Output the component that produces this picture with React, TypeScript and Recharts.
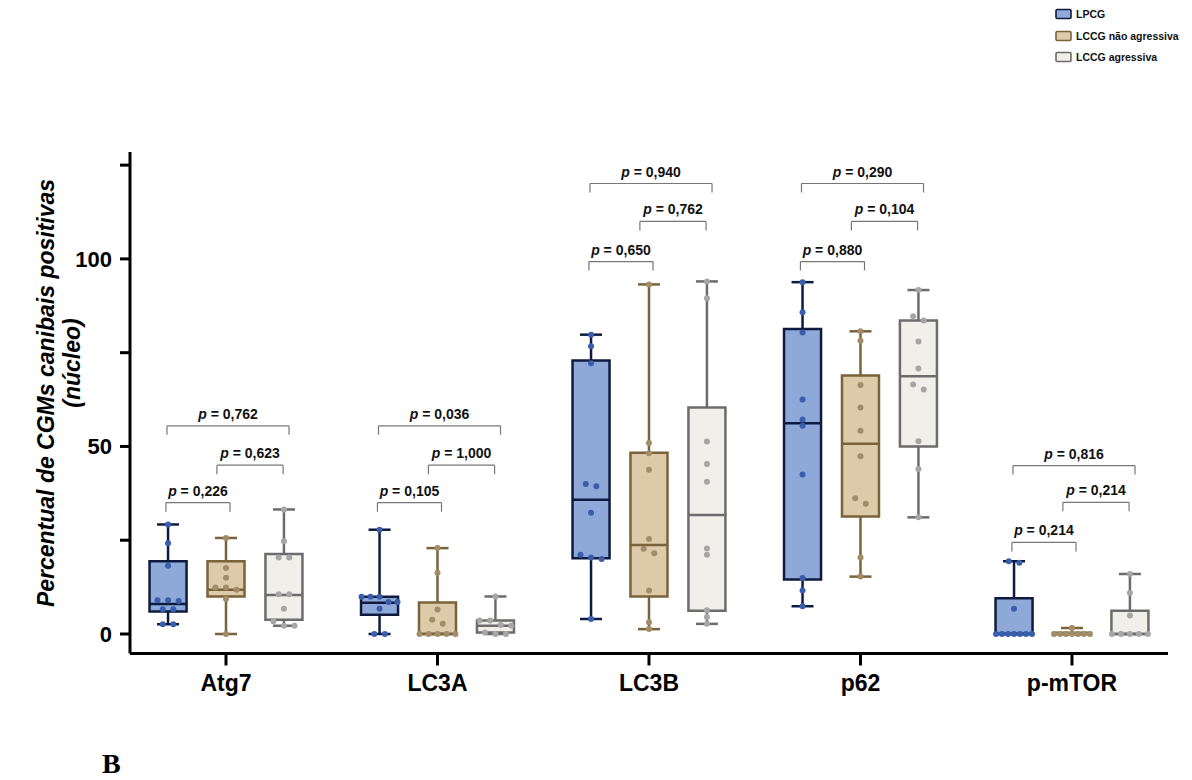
import React from 'react';
import { ComposedChart, XAxis, YAxis, Scatter, ReferenceArea, ReferenceLine } from 'recharts';

const categories = ['Atg7', 'LC3A', 'LC3B', 'p62', 'p-mTOR'];
const groupNames = ['LPCG', 'LCCG não agressiva', 'LCCG agressiva'];

// box statistics per category: [min, q1, median, q3, max]
const lpcgStats = [
  [2.6, 6.0, 8.0, 19.4, 29.2],
  [0, 5.1, 8.3, 9.9, 27.8],
  [4.0, 20.2, 35.8, 72.9, 79.8],
  [7.4, 14.5, 56.2, 81.3, 93.8],
  [0, 0, 0, 9.5, 19.4],
];
const naoStats = [
  [0, 10.0, 11.8, 19.4, 25.6],
  [0, 0, 0, 8.4, 22.9],
  [1.3, 10.0, 23.7, 48.3, 93.2],
  [15.3, 31.3, 50.7, 68.9, 80.7],
  [0, 0, 0, 0.3, 1.6],
];
const agrStats = [
  [2.2, 3.8, 10.4, 21.3, 33.2],
  [0, 0.4, 2.2, 3.6, 10.0],
  [2.7, 6.2, 31.7, 60.4, 94.0],
  [31.1, 50.0, 68.7, 83.6, 91.7],
  [0, 0, 0, 6.2, 16.0],
];

// individual values per category
const lpcgPoints = [
  [29.2, 24.2, 18.2, 9.0, 9.0, 8.8, 6.6, 6.6, 2.6, 2.6],
  [27.8, 9.9, 9.9, 9.9, 8.5, 8.5, 6.7, 0, 0],
  [79.8, 76.7, 72.2, 40.0, 39.4, 32.3, 21.1, 20.4, 20.0, 4.0],
  [93.8, 85.8, 80.4, 62.5, 57.2, 55.5, 42.5, 14.9, 11.6, 7.4],
  [19.4, 19.0, 6.7, 0, 0, 0, 0, 0, 0, 0],
];
const naoPoints = [
  [25.6, 17.6, 15.0, 12.4, 12.4, 11.8, 9.3, 0],
  [22.9, 16.3, 6.5, 3.8, 2.7, 0, 0, 0, 0, 0],
  [93.2, 50.9, 48.2, 43.8, 25.3, 22.7, 21.5, 11.6, 3.1, 1.3],
  [80.7, 78.2, 66.4, 60.4, 54.2, 47.4, 36.2, 34.7, 20.4, 15.3],
  [1.6, 0, 0, 0, 0, 0, 0, 0],
];
const agrPoints = [
  [33.2, 24.7, 20.4, 20.4, 10.6, 10.6, 6.7, 3.4, 2.2, 2.2],
  [10.0, 3.6, 3.6, 2.4, 2.2, 0.4, 0, 0],
  [94.0, 89.5, 51.3, 45.3, 40.6, 22.8, 21.1, 6.3, 4.5, 2.7],
  [91.7, 84.7, 83.6, 78.0, 70.8, 66.5, 65.2, 51.4, 44.0, 31.1],
  [16.0, 10.9, 4.9, 0, 0, 0, 0, 0],
];

// p-values and bracket heights (y units)
const pLpcgNao = ['0,226', '0,105', '0,650', '0,880', '0,214'];
const pNaoAgr = ['0,623', '1,000', '0,762', '0,104', '0,214'];
const pLpcgAgr = ['0,762', '0,036', '0,940', '0,290', '0,816'];
const bracketLow = [35, 35, 99.3, 99.3, 24.4];
const bracketMid = [45, 45, 110, 110, 35.1];
const bracketHigh = [55.5, 55.5, 120.1, 120.1, 44.9];

const yTicks = [0, 25, 50, 75, 100, 125];
const xTicks = [0, 1, 2, 3, 4];

const FONT = '"Liberation Sans", Arial, Helvetica, sans-serif';

const groupStyles = [
  { fill: '#8EA9D7', stroke: '#0E1B3E', dot: '#3A5EAE' },
  { fill: '#DDCAA9', stroke: '#7A623A', dot: '#A38D68' },
  { fill: '#F0EFEA', stroke: '#6C6C6C', dot: '#A6A6A6' },
];
const groupStats = [lpcgStats, naoStats, agrStats];
const groupPoints = [lpcgPoints, naoPoints, agrPoints];

const OFFSETS = [-0.274, 0, 0.274];
const BOX_HALF = 0.0875;
const CAP_HALF = 0.052;
const TICK_DROP = 2.4;

function jitter(values: number[]): number[] {
  const idx = values.map((v, i) => ({ v, i })).sort((a, b) => b.v - a.v);
  const out = new Array(values.length).fill(0);
  let start = 0;
  while (start < idx.length) {
    let end = start + 1;
    while (end < idx.length && idx[end - 1].v - idx[end].v < 1.6) end++;
    const n = end - start;
    const step = n > 1 ? Math.min(0.05, 0.17 / (n - 1)) : 0;
    for (let k = start; k < end; k++) out[idx[k].i] = (k - start - (n - 1) / 2) * step;
    start = end;
  }
  return out;
}

const pointData = groupPoints.map((gp, gi) =>
  gp.flatMap((vals, ci) => {
    const j = jitter(vals);
    return vals.map((v, k) => ({ x: ci + OFFSETS[gi] + j[k], y: v }));
  })
);

const labelData = categories.flatMap((c, ci) => [
  { x: ci + (-0.284 + 0.019) / 2, y: bracketLow[ci], label: pLpcgNao[ci] },
  { x: ci + (-0.043 + 0.27) / 2, y: bracketMid[ci], label: pNaoAgr[ci] },
  { x: ci + (-0.279 + 0.298) / 2, y: bracketHigh[ci], label: pLpcgAgr[ci] },
]);

const Dot = (color: string) => (props: any) => (
  <circle cx={props.cx} cy={props.cy} r={3} fill={color} stroke="none" />
);

const PLabel = (props: any) => {
  const label = props.payload?.label ?? props.label;
  return (
    <text x={props.cx} y={props.cy - 7} textAnchor="middle" fontFamily={FONT} fontWeight={700} fontSize={14} fill="#111">
      <tspan fontStyle="italic">p</tspan>
      <tspan> = {label}</tspan>
    </text>
  );
};

export default function App() {
  const refs: React.ReactNode[] = [];
  categories.forEach((cat, ci) => {
    groupStats.forEach((stats, gi) => {
      const [mn, q1, md, q3, mx] = stats[ci];
      const cx = ci + OFFSETS[gi];
      const st = groupStyles[gi];
      const k = `${ci}-${gi}`;
      refs.push(
        <ReferenceLine key={`wl${k}`} segment={[{ x: cx, y: mn }, { x: cx, y: q1 }]} stroke={st.stroke} strokeWidth={2.5} ifOverflow="visible" />,
        <ReferenceLine key={`wh${k}`} segment={[{ x: cx, y: q3 }, { x: cx, y: mx }]} stroke={st.stroke} strokeWidth={2.5} ifOverflow="visible" />,
        <ReferenceLine key={`cl${k}`} segment={[{ x: cx - CAP_HALF, y: mn }, { x: cx + CAP_HALF, y: mn }]} stroke={st.stroke} strokeWidth={2.5} ifOverflow="visible" />,
        <ReferenceLine key={`ch${k}`} segment={[{ x: cx - CAP_HALF, y: mx }, { x: cx + CAP_HALF, y: mx }]} stroke={st.stroke} strokeWidth={2.5} ifOverflow="visible" />,
        <ReferenceArea key={`b${k}`} x1={cx - BOX_HALF} x2={cx + BOX_HALF} y1={q1} y2={q3} fill={st.fill} fillOpacity={1} stroke={st.stroke} strokeWidth={2.5} ifOverflow="visible" />,
        <ReferenceLine key={`m${k}`} segment={[{ x: cx - BOX_HALF, y: md }, { x: cx + BOX_HALF, y: md }]} stroke={st.stroke} strokeWidth={2.5} ifOverflow="visible" />
      );
    });
    const brackets: [number, number, number][] = [
      [-0.284, 0.019, bracketLow[ci]],
      [-0.043, 0.27, bracketMid[ci]],
      [-0.279, 0.298, bracketHigh[ci]],
    ];
    brackets.forEach(([a, b, h], bi) => {
      const k = `${ci}-${bi}`;
      refs.push(
        <ReferenceLine key={`bh${k}`} segment={[{ x: ci + a, y: h }, { x: ci + b, y: h }]} stroke="#777" strokeWidth={1.2} ifOverflow="visible" />,
        <ReferenceLine key={`bl${k}`} segment={[{ x: ci + a, y: h }, { x: ci + a, y: h - TICK_DROP }]} stroke="#777" strokeWidth={1.2} ifOverflow="visible" />,
        <ReferenceLine key={`br${k}`} segment={[{ x: ci + b, y: h }, { x: ci + b, y: h - TICK_DROP }]} stroke="#777" strokeWidth={1.2} ifOverflow="visible" />
      );
    });
  });

  return (
    <div style={{ position: 'relative', width: 1176, height: 772, background: '#fff' }}>
      <ComposedChart width={1176} height={772} margin={{ top: 144, right: 16, bottom: 96.5, left: 62 }}>
        <XAxis
          type="number"
          dataKey="x"
          domain={[-0.4539, 4.454]}
          ticks={xTicks}
          interval={0}
          allowDataOverflow
          tickFormatter={(v: number) => categories[v] ?? ''}
          axisLine={{ stroke: '#000', strokeWidth: 3 }}
          tickLine={{ stroke: '#000', strokeWidth: 3 }}
          tickSize={12}
          tickMargin={9}
          height={30}
          tick={{ fill: '#000', fontSize: 23, fontWeight: 700, fontFamily: FONT }}
        />
        <YAxis
          type="number"
          dataKey="y"
          domain={[-5.2, 128.5]}
          ticks={yTicks}
          interval={0}
          allowDataOverflow
          tickFormatter={(v: number) => (v % 50 === 0 ? String(v) : '')}
          axisLine={{ stroke: '#000', strokeWidth: 3 }}
          tickLine={{ stroke: '#000', strokeWidth: 3 }}
          tickSize={10}
          tickMargin={8}
          width={60}
          tick={{ fill: '#000', fontSize: 22, fontWeight: 700, fontFamily: FONT }}
        />
        {refs}
        {pointData.map((d, gi) => (
          <Scatter key={`s${gi}`} name={groupNames[gi]} data={d} dataKey="y" isAnimationActive={false} shape={Dot(groupStyles[gi].dot)} />
        ))}
        <Scatter name="p" data={labelData} dataKey="y" isAnimationActive={false} shape={PLabel} />
      </ComposedChart>
      <svg width={1176} height={772} style={{ position: 'absolute', left: 0, top: 0, pointerEvents: 'none', overflow: 'visible' }}>
        <text x={38} y={385} transform="rotate(-90 38 385)" textAnchor="middle" dominantBaseline="central" fontFamily={FONT} fontStyle="italic" fontWeight={700} fontSize={23} fill="#000">
          Percentual de CGMs canibais positivas
        </text>
        <text x={64} y={355} transform="rotate(-90 64 355)" textAnchor="middle" dominantBaseline="central" fontFamily={FONT} fontStyle="italic" fontWeight={700} fontSize={23} fill="#000">
          (núcleo)
        </text>
        {groupNames.map((g, gi) => {
          const cy = [6, 28, 49][gi];
          return (
            <g key={g}>
              <rect x={1048} y={cy - 4.5} width={15} height={9} rx={1.2} fill={groupStyles[gi].fill} stroke={groupStyles[gi].stroke} strokeWidth={1.6} />
              <text x={1068} y={cy} dominantBaseline="central" fontFamily={FONT} fontWeight={700} fontSize={10.5} fill="#111">{g}</text>
            </g>
          );
        })}
        <text x={94} y={765} fontFamily='"Liberation Serif", "Times New Roman", serif' fontWeight={700} fontSize={28} fill="#000">B</text>
      </svg>
    </div>
  );
}
